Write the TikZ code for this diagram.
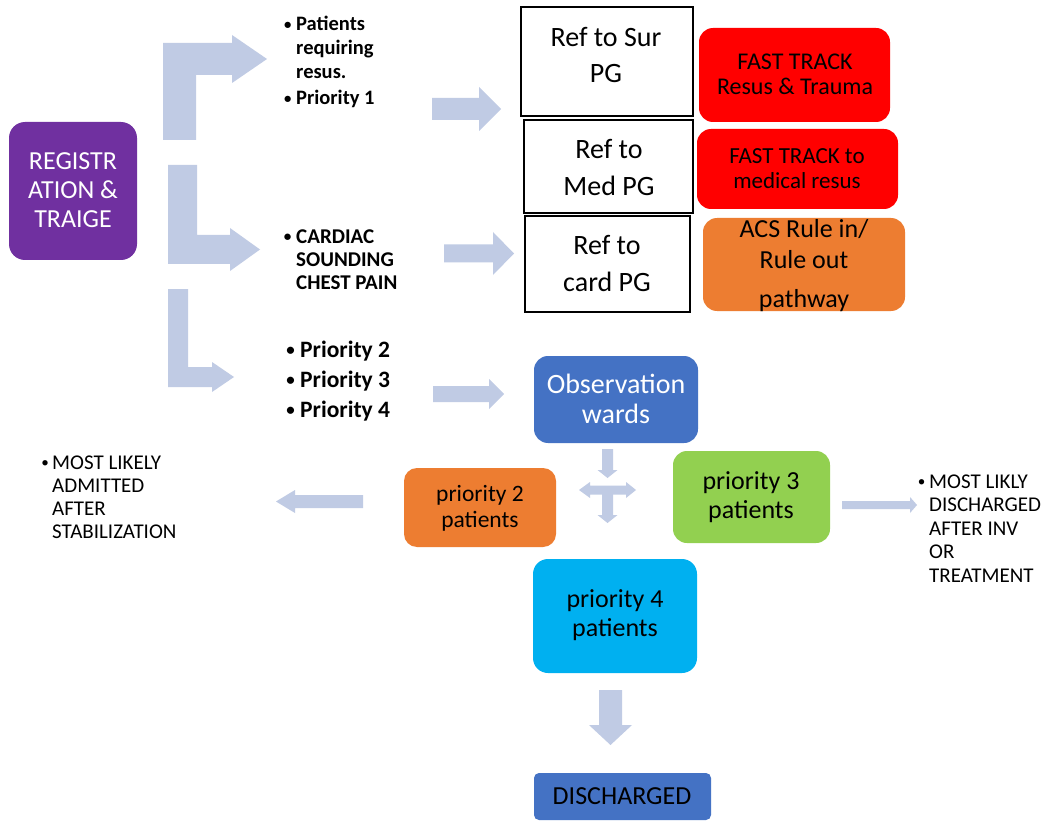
\documentclass[tikz,border=0pt]{standalone}
\usepackage{graphicx}
\usepackage{fontspec}
\setmainfont{Carlito}
\definecolor{arrowblue}{RGB}{192,203,228}
\definecolor{regpurple}{RGB}{112,48,160}
\definecolor{fastred}{RGB}{255,0,0}
\definecolor{acsorange}{RGB}{237,125,49}
\definecolor{obsblue}{RGB}{68,114,196}
\definecolor{pgreen}{RGB}{146,208,80}
\definecolor{pcyan}{RGB}{0,176,240}
% horizontal block arrow: tail x, head base x, tip x, centre y, shaft half, head half
\newcommand{\hblock}[6]{\fill[arrowblue] (#1,{#4-#5}) -- (#2,{#4-#5}) -- (#2,{#4-#6}) -- (#3,#4) -- (#2,{#4+#6}) -- (#2,{#4+#5}) -- (#1,{#4+#5}) -- cycle;}
% vertical block arrow: tail y, head base y, tip y, centre x, shaft half, head half
\newcommand{\vblock}[6]{\fill[arrowblue] ({#4-#5},#1) -- ({#4-#5},#2) -- ({#4-#6},#2) -- (#4,#3) -- ({#4+#6},#2) -- ({#4+#5},#2) -- ({#4+#5},#1) -- cycle;}
\newcommand{\firstline}{\rule{0pt}{1em}}
\newcommand{\bul}[1]{\llap{\makebox[#1pt]{\raisebox{0.08em}{\scalebox{0.72}{\textbullet}}}}}
\begin{document}
\begin{tikzpicture}[x=1pt,y=-1pt,
  plainbox/.style={inner sep=0pt, outer sep=0pt, rectangle},
  rbox/.style={plainbox, rounded corners=#1},
  refbox/.style={plainbox, draw=black, line width=1.3pt},
  boxtext/.style={inner sep=0pt, align=center, text=black},
  listtext/.style={inner sep=0pt, align=left, anchor=north west, text=black}]
\useasboundingbox[fill=white] (0,0) rectangle (1047,821);

% boxes
\node[rbox=16pt, fill=regpurple, minimum width=128pt, minimum height=138pt] (reg) at (73,191) {};
\node[refbox, minimum width=172pt, minimum height=109pt] (sur) at (607,61.5) {};
\node[refbox, minimum width=169pt, minimum height=93pt] (med) at (608.5,166.5) {};
\node[refbox, minimum width=165pt, minimum height=96pt] (card) at (607.5,264) {};
\node[rbox=14pt, fill=fastred, minimum width=191pt, minimum height=94pt] (ft1) at (794.5,75) {};
\node[rbox=14pt, fill=fastred, minimum width=201pt, minimum height=80pt] (ft2) at (797.5,169) {};
\node[rbox=14pt, fill=acsorange, minimum width=202pt, minimum height=93pt] (acs) at (804,264.5) {};
\node[rbox=14pt, fill=obsblue, minimum width=164pt, minimum height=87pt] (obs) at (616,399.5) {};
\node[rbox=13pt, fill=acsorange, minimum width=152pt, minimum height=79pt] (p2) at (480,507.5) {};
\node[rbox=14pt, fill=pgreen, minimum width=157pt, minimum height=92pt] (p3) at (751.5,497) {};
\node[rbox=15pt, fill=pcyan, minimum width=164pt, minimum height=114pt] (p4) at (615,616) {};
\node[rbox=5pt, fill=obsblue, minimum width=177pt, minimum height=47pt] (dis) at (622.5,796.5) {};

% box labels
\node[boxtext, text=white, font=\fontsize{26}{29}\selectfont] (regt) at (73,190) {REGISTR\\ATION \&\\TRAIGE};
\node[boxtext, font=\fontsize{28}{36}\selectfont] (surt) at (606,55) {Ref to Sur\\PG};
\node[boxtext, font=\fontsize{28}{37}\selectfont] (medt) at (609,167.5) {Ref to\\Med PG};
\node[boxtext, font=\fontsize{28}{37}\selectfont] (cardt) at (607,263.5) {Ref to\\card PG};
\node[boxtext, font=\fontsize{24}{25}\selectfont] (ft1t) at (795,74.5) {FAST TRACK\\Resus \& Trauma};
\node[boxtext, font=\fontsize{23}{25}\selectfont] (ft2t) at (797,168.5) {FAST TRACK to\\medical resus};
\node[boxtext, font=\fontsize{26}{31}\selectfont] (acst) at (804,265.5) {ACS Rule in/\\Rule out\\[8pt]pathway};
\node[boxtext, text=white, font=\fontsize{28}{30}\selectfont] (obst) at (616,399) {Observation\\wards};
\node[boxtext, font=\fontsize{23.5}{26}\selectfont] (p2t) at (480,508) {priority 2\\patients};
\node[boxtext, font=\fontsize{26}{29}\selectfont] (p3t) at (751,497.5) {priority 3\\patients};
\node[boxtext, font=\fontsize{26}{29}\selectfont] (p4t) at (615,615.5) {priority 4\\patients};
\node[boxtext, font=\fontsize{26}{30}\selectfont] (dist) at (622,796) {DISCHARGED};

% bullet lists
\node[listtext, font=\fontsize{20.5}{24}\selectfont\bfseries] (resus) at (296,10) {\firstline\bul{17}Patients\\requiring\\resus.};
\node[listtext, font=\fontsize{20.5}{24}\selectfont\bfseries] (prio1) at (296,84) {\firstline\bul{17}Priority 1};
\node[listtext, font=\fontsize{21}{23}\selectfont\bfseries] (cardiac) at (296,221.8) {\firstline\bul{17}CARDIAC\\SOUNDING\\CHEST PAIN};
\node[listtext, font=\fontsize{23.5}{30}\selectfont\bfseries] (prios) at (300,334) {\firstline\bul{19}Priority 2\\\bul{19}Priority 3\\\bul{19}Priority 4};
\node[listtext, font=\fontsize{21}{23}\selectfont] (admit) at (52,447.8) {\firstline\bul{14}MOST LIKELY\\ADMITTED\\AFTER\\STABILIZATION};
\node[listtext, font=\fontsize{21}{23.5}\selectfont] (disch) at (929,466.8) {\firstline\bul{15}MOST LIKLY\\DISCHARGED\\AFTER INV\\OR\\TREATMENT};

% bent arrows leaving registration
\fill[arrowblue] (163,140) -- (163,43) -- (232,43) -- (232,35) -- (267,59) -- (232,83) -- (232,75) -- (196,75) -- (196,140) -- cycle;
\fill[arrowblue] (168,165) -- (168,264) -- (230,264) -- (230,271) -- (260,249.5) -- (230,228) -- (230,235) -- (197,235) -- (197,165) -- cycle;
\fill[arrowblue] (168,289) -- (168,387) -- (212,387) -- (212,392) -- (234,377) -- (212,362) -- (212,367) -- (188,367) -- (188,289) -- cycle;

% straight arrows
\hblock{432}{479}{501}{109}{11}{22}
\hblock{444}{493}{514}{253.5}{9}{21.5}
\hblock{433}{489}{504}{394}{8}{15}
\hblock{363}{295}{276}{501.5}{6.5}{11.5}
\hblock{842}{910}{917}{505}{4}{8}
\vblock{449}{470}{478}{607.5}{5.5}{10}
\vblock{494}{515}{523}{607.5}{5.5}{10}
\vblock{690}{725}{745}{610.5}{11.5}{21.5}
% two-headed cross bar below the observation wards
\fill[arrowblue] (579,490) -- (590,482) -- (590,485.5) -- (626,485.5) -- (626,482) -- (636,490) -- (626,498) -- (626,494.5) -- (590,494.5) -- (590,498) -- cycle;
\end{tikzpicture}
\end{document}
